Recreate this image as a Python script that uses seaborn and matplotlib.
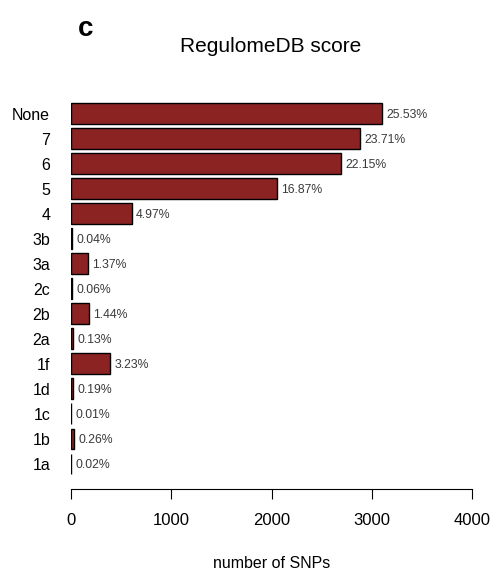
import matplotlib
matplotlib.use("Agg")
import matplotlib.pyplot as plt
import seaborn as sns

# --- DATA ---
scores = ["None", "7", "6", "5", "4", "3b", "3a", "2c", "2b", "2a", "1f", "1d", "1c", "1b", "1a"]
n_snps = [3102, 2881, 2691, 2050, 604, 5, 166, 7, 175, 16, 392, 23, 1, 32, 2]
pct_labels = ["25.53%", "23.71%", "22.15%", "16.87%", "4.97%", "0.04%", "1.37%", "0.06%",
              "1.44%", "0.13%", "3.23%", "0.19%", "0.01%", "0.26%", "0.02%"]
x_ticks = [0, 1000, 2000, 3000, 4000]

BAR_COLOR = "#8B2323"

sns.set_style("white")
plt.rcParams["font.family"] = ["Liberation Sans", "DejaVu Sans"]
plt.rcParams["text.color"] = "black"

fig = plt.figure(figsize=(4.95, 5.76), dpi=100)
ax = fig.add_axes([71 / 495, 87 / 576, 401 / 495, 401 / 576])

sns.barplot(x=n_snps, y=scores, orient="h", color=BAR_COLOR, saturation=1,
            edgecolor="black", linewidth=1.0, width=0.833, ax=ax)

# percentage labels just right of each bar
for i, (v, lab) in enumerate(zip(n_snps, pct_labels)):
    ax.text(v + 45, i + 0.05, lab, ha="left", va="center", fontsize=8.8, color="#3a3a3a")

ax.set_xlim(0, 4000)
ax.set_ylim(15.0, -1.02)
ax.set_xticks(x_ticks)
ax.set_xticklabels([str(t) for t in x_ticks], fontsize=12)
ax.tick_params(axis="x", direction="out", length=7.2, width=0.8, pad=10, bottom=True,
               colors="black", labelcolor="black")
ax.tick_params(axis="y", length=0, pad=15, labelsize=11.5, labelcolor="black")
for lab in ax.get_yticklabels():
    lab.set_horizontalalignment("right")

for side in ["top", "right", "left"]:
    ax.spines[side].set_visible(False)
ax.spines["bottom"].set_color("black")
ax.spines["bottom"].set_linewidth(0.8)
ax.set_ylabel("")
ax.set_xlabel("number of SNPs", fontsize=11.5, labelpad=20, color="black")

fig.text(271 / 495, 1 - 47 / 576, "RegulomeDB score", ha="center", va="center", fontsize=15)
fig.text(86 / 495, 1 - 29 / 576, "c", ha="center", va="center", fontsize=20, fontweight="bold")

fig.savefig("out.png", dpi=100)
